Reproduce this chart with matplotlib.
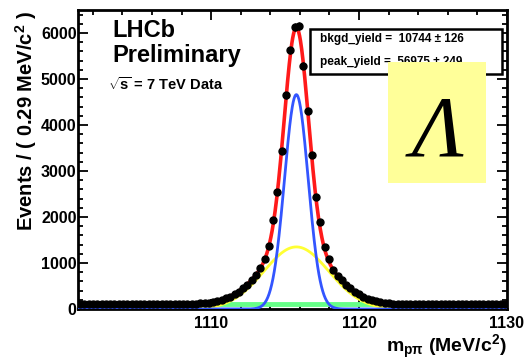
import numpy as np
import matplotlib
matplotlib.use('Agg')
import matplotlib.pyplot as plt
from matplotlib.patches import Rectangle
from matplotlib.ticker import MultipleLocator

plt.rcParams['font.family'] = 'Liberation Sans'
plt.rcParams['font.weight'] = 'bold'
plt.rcParams['mathtext.fontset'] = 'custom'
plt.rcParams['mathtext.rm'] = 'Liberation Sans:bold'
plt.rcParams['mathtext.it'] = 'Liberation Sans:bold'
plt.rcParams['mathtext.bf'] = 'Liberation Sans:bold'

# histogram: 100 bins of 0.29 MeV from 1101 to 1130
lo, width, nbins = 1101.0, 0.29, 100
counts = [108, 112, 104, 110, 101, 115, 107, 99, 111, 106,
          103, 117, 109, 100, 113, 105, 110, 102, 118, 108,
          112, 106, 115, 109, 111, 110, 114, 118, 122, 130,
          140, 148, 175, 192, 233, 266, 326, 378, 458, 530,
          638, 735, 891, 1087, 1361, 1941, 2535, 3426, 4643, 5622,
          6130, 6150, 5289, 4311, 3343, 2426, 1883, 1348, 1087, 854,
          718, 622, 515, 448, 365, 318, 258, 228, 186, 170,
          145, 136, 121, 118, 109, 110, 104, 112, 106, 101,
          109, 114, 103, 107, 111, 99, 105, 110, 102, 108,
          113, 100, 106, 104, 111, 98, 107, 103, 109, 101]

# fit result (per bin)
mean = 1115.76
amp_narrow, sigma_narrow = 4660, 0.80
amp_wide, sigma_wide = 1350, 2.2
bkg_level = 105
green_range = (1110.0, 1122.0)

centers = lo + width * (np.arange(nbins) + 0.5)
counts = np.array(counts)

xs = np.linspace(lo, lo + width * nbins, 1000)
narrow = amp_narrow * np.exp(-0.5 * ((xs - mean) / sigma_narrow) ** 2)
wide = amp_wide * np.exp(-0.5 * ((xs - mean) / sigma_wide) ** 2)
total = narrow + wide + bkg_level

fig = plt.figure(figsize=(5.29, 3.61), dpi=100)
ax = fig.add_axes([78 / 529, 52 / 361, 429 / 529, 299 / 361])

xg = np.linspace(*green_range, 50)
ax.plot(xg, np.full_like(xg, bkg_level), color='#66ff88', lw=3.5, zorder=2)
ax.plot(xs, wide, color='#ffff33', lw=2, zorder=3)
ax.plot(xs, narrow, color='#3355ff', lw=2, zorder=4)
ax.plot(xs, total, color='#ff1a1a', lw=2.6, zorder=5)
ax.errorbar(centers, counts, yerr=np.sqrt(counts), fmt='o', color='black',
            ms=5, elinewidth=1, capsize=0, zorder=6)

ax.set_xlim(1101, 1130)
ax.set_ylim(0, 6500)
ax.xaxis.set_major_locator(MultipleLocator(10))
ax.xaxis.set_minor_locator(MultipleLocator(2))
ax.yaxis.set_major_locator(MultipleLocator(1000))
ax.yaxis.set_minor_locator(MultipleLocator(200))
ax.tick_params(which='both', direction='in', top=True, right=True,
               width=1.3, labelsize=11.5)
ax.tick_params(which='major', length=7)
ax.tick_params(which='minor', length=3.5)
ax.tick_params(axis='y', pad=1)
ax.tick_params(axis='x', pad=5)
for s in ax.spines.values():
    s.set_linewidth(2)

fig.text(26 / 529, 1 - 11 / 361, 'Events / ( 0.29 MeV/c$^{2}$ )',
         rotation=90, ha='center', va='top', fontsize=14.5, fontweight='bold')
fig.text(507 / 529, 1 - 347 / 361, r'm$_{p\pi}$ (MeV/c$^{2}$)',
         ha='right', va='center', fontsize=14, fontweight='bold')

ax.text(0.079, 0.910, 'LHCb', transform=ax.transAxes, fontsize=17,
        fontweight='bold', zorder=8)
ax.text(0.079, 0.826, 'Preliminary', transform=ax.transAxes, fontsize=17,
        fontweight='bold', zorder=8)
ax.text(0.070, 0.733, r'$\sqrt{s}$ = 7 TeV Data', transform=ax.transAxes,
        fontsize=10.5, fontweight='bold', zorder=8)

# fit result box
ax.add_patch(Rectangle((0.541, 0.786), 0.447, 0.150, transform=ax.transAxes,
                       facecolor='white', edgecolor='black', lw=1.8, zorder=7))
ax.text(0.564, 0.903, 'bkgd_yield =  10744 ± 126', transform=ax.transAxes,
        fontsize=8.5, fontweight='bold', va='center', zorder=8)
ax.text(0.564, 0.826, 'peak_yield =  56975 ± 249', transform=ax.transAxes,
        fontsize=8.5, fontweight='bold', va='center', zorder=8)

# yellow label box
ax.add_patch(Rectangle((0.7226, 0.4214), 0.2284, 0.4046, transform=ax.transAxes,
                       facecolor='#ffff99', edgecolor='none', zorder=9))
ax.text(0.839, 0.515, 'Λ', transform=ax.transAxes, family='Liberation Serif',
        style='italic', fontweight='normal', fontsize=62, ha='center',
        va='baseline', zorder=10)

fig.savefig('out.png', dpi=100)
